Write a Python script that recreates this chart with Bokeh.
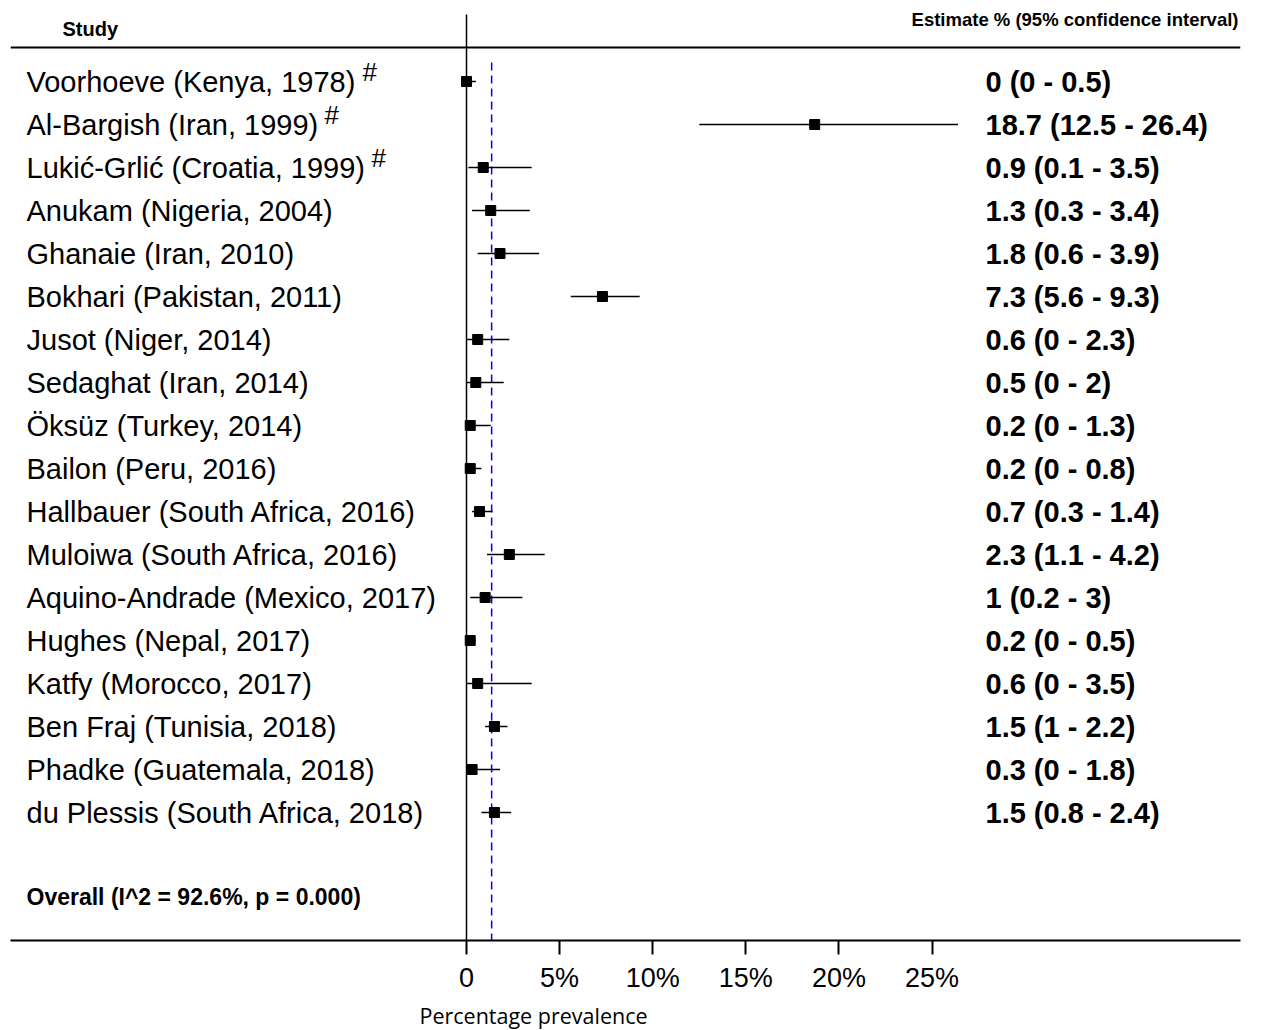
from bokeh.plotting import figure
from bokeh.layouts import column
from bokeh.models import Range1d, FixedTicker, Span, ColumnDataSource
from bokeh.core.properties import value
from bokeh.embed import file_html
from bokeh.resources import INLINE

# ---------------- data ----------------
studies = ["Voorhoeve (Kenya, 1978)", "Al-Bargish (Iran, 1999)", "Lukić-Grlić (Croatia, 1999)",
           "Anukam (Nigeria, 2004)", "Ghanaie (Iran, 2010)", "Bokhari (Pakistan, 2011)",
           "Jusot (Niger, 2014)", "Sedaghat (Iran, 2014)", "Öksüz (Turkey, 2014)",
           "Bailon (Peru, 2016)", "Hallbauer (South Africa, 2016)", "Muloiwa (South Africa, 2016)",
           "Aquino-Andrade (Mexico, 2017)", "Hughes (Nepal, 2017)", "Katfy (Morocco, 2017)",
           "Ben Fraj (Tunisia, 2018)", "Phadke (Guatemala, 2018)", "du Plessis (South Africa, 2018)"]
estimate = [0, 18.7, 0.9, 1.3, 1.8, 7.3, 0.6, 0.5, 0.2, 0.2, 0.7, 2.3, 1.0, 0.2, 0.6, 1.5, 0.3, 1.5]
ci_low = [0, 12.5, 0.1, 0.3, 0.6, 5.6, 0, 0, 0, 0, 0.3, 1.1, 0.2, 0, 0, 1.0, 0, 0.8]
ci_high = [0.5, 26.4, 3.5, 3.4, 3.9, 9.3, 2.3, 2.0, 1.3, 0.8, 1.4, 4.2, 3.0, 0.5, 3.5, 2.2, 1.8, 2.4]
flagged = ["Voorhoeve (Kenya, 1978)", "Al-Bargish (Iran, 1999)", "Lukić-Grlić (Croatia, 1999)"]
overall_estimate = 1.35
overall_text = "Overall  (I^2 = 92.6%, p = 0.000)"
tick_values = [0, 5, 10, 15, 20, 25]
tick_labels = ["0", "5%", "10%", "15%", "20%", "25%"]
x_title = "Percentage prevalence"

# ---------------- layout ----------------
PX = 18.62          # pixels per percent
ROW = 43.0          # pixels per row
def xd(px):  # page pixel -> data x
    return (px - 466) / PX
def yd(py):  # page pixel -> data row
    return (py - 81) / ROW

rows = list(range(len(studies)))
labels = [f"{e:g} ({l:g} - {h:g})" for e, l, h in zip(estimate, ci_low, ci_high)]
src = ColumnDataSource(dict(y=rows, name=studies, est=estimate, lo=ci_low, hi=ci_high,
                            lab=labels, xl=[xd(26)] * len(rows), xr=[xd(985)] * len(rows)))

xr = Range1d(xd(10), xd(1240))
p = figure(frame_width=1230, frame_height=930,
           x_range=xr, y_range=Range1d(yd(940), yd(10)),
           output_backend="svg", toolbar_location=None, y_axis_location=None,
           min_border_left=10, min_border_right=13, min_border_top=10, min_border_bottom=60)
p.grid.visible = False
p.outline_line_color = None

# axis
ax = p.xaxis[0]
ax.ticker = FixedTicker(ticks=tick_values)
ax.major_label_overrides = {v: t for v, t in zip(tick_values, tick_labels)}
ax.axis_line_width = 2
ax.axis_line_color = "black"
ax.major_tick_line_width = 2
ax.major_tick_line_color = "black"
ax.major_tick_out = 14
ax.major_tick_in = 0
ax.minor_tick_line_color = None
ax.major_label_standoff = 8
ax.axis_label_standoff = 0
ax.major_label_text_font = "Liberation Sans"
ax.major_label_text_font_size = "27px"
ax.major_label_text_color = "black"

# frame lines
p.add_layout(Span(location=yd(47), dimension="width", line_color="black", line_width=2))
p.segment(x0=[0], y0=[yd(14)], x1=[0], y1=[yd(940)], line_color="black", line_width=1.5)
p.segment(x0=[overall_estimate], y0=[yd(62)], x1=[overall_estimate], y1=[yd(940)],
          line_color="#0000ff", line_width=1.5, line_dash="8 5")

# CIs and points
p.segment(x0="lo", y0="y", x1="hi", y1="y", source=src, line_color="black", line_width=1.5)
p.scatter(x="est", y="y", source=src, marker="square", size=10, color="black")

# texts
p.text(x="xl", y="y", text="name", source=src, text_font=value("Liberation Sans"),
       text_font_size="29px", text_baseline="middle", text_align="left", text_color="black")
p.text(x="xr", y="y", text="lab", source=src, text_font=value("Liberation Sans"),
       text_font_size="29px", text_font_style="bold", text_baseline="middle",
       text_align="left", text_color="black")

sup_x = {"Voorhoeve (Kenya, 1978)": 362, "Al-Bargish (Iran, 1999)": 324,
         "Lukić-Grlić (Croatia, 1999)": 371}
for name in flagged:
    r = studies.index(name)
    p.text(x=[xd(sup_x[name])], y=[r - 0.22], text=["#"], text_font=value("Liberation Sans"),
           text_font_size="26px", text_baseline="middle", text_align="left", text_color="black")

p.text(x=[xd(62)], y=[yd(28)], text=["Study"], text_font=value("Liberation Sans"),
       text_font_size="20px", text_font_style="bold", text_baseline="middle", text_color="black")
p.text(x=[xd(1238)], y=[yd(19)], text=["Estimate % (95% confidence interval)"],
       text_font=value("Liberation Sans"), text_font_size="18.5px", text_font_style="bold",
       text_baseline="middle", text_align="right", text_color="black")
p.text(x=[xd(26)], y=[yd(896)], text=[overall_text], text_font=value("Liberation Sans"),
       text_font_size="23px", text_font_style="bold", text_baseline="middle", text_color="black")

# x-axis title strip (below the axis, aligned to the same x scale; y measured from its top)
q = figure(frame_width=1230, frame_height=30, x_range=xr, y_range=Range1d(30, 0),
           output_backend="svg", toolbar_location=None, x_axis_location=None,
           y_axis_location=None, min_border_left=10, min_border_right=13,
           min_border_top=0, min_border_bottom=0)
q.grid.visible = False
q.outline_line_color = None
q.text(x=[xd(533)], y=[15], text=[x_title], text_font=value("Open Sans"),
       text_font_size="21.5px", text_align="center", text_baseline="middle",
       text_color="black")

layout = column(p, q, spacing=0)
open("out.html", "w").write(file_html(layout, INLINE))
